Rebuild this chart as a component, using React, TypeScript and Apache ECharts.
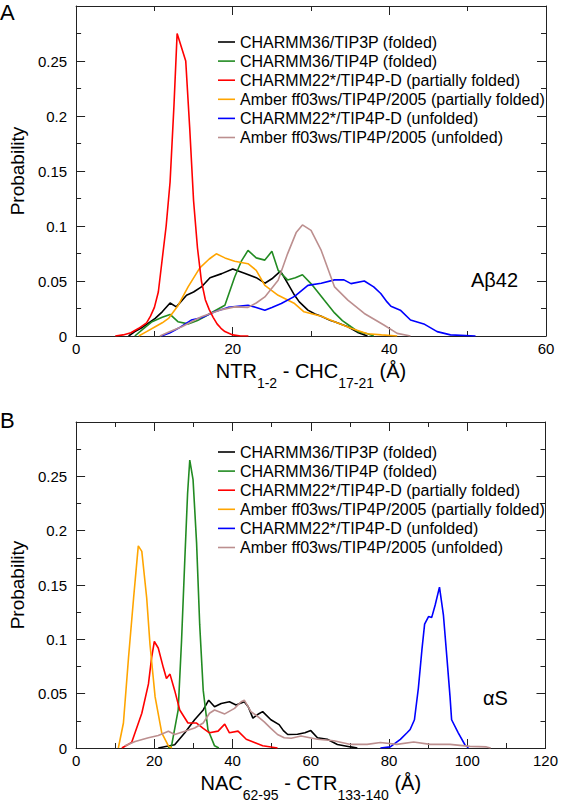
import React, { useEffect, useRef } from "react";
import * as echarts from "echarts";

const seriesNames = [
  "CHARMM36/TIP3P (folded)",
  "CHARMM36/TIP4P (folded)",
  "CHARMM22*/TIP4P-D (partially folded)",
  "Amber ff03ws/TIP4P/2005 (partially folded)",
  "CHARMM22*/TIP4P-D (unfolded)",
  "Amber ff03ws/TIP4P/2005 (unfolded)",
];
const seriesColors = ["#000000", "#228b22", "#ff0000", "#ffa500", "#0000ff", "#bc8f8f"];

const yTicksMax = 0.3;
const yInterval = 0.05;
const xMaxA = 60;
const xMaxB = 120;
const xInterval = 20;

// Panel A: NTR1-2 - CHC17-21 distance
const aBlack = [[6.7,0],[7.5,0.004],[8.5,0.008],[10.1,0.016],[11,0.022],[12,0.03],[12.8,0.0265],[14.1,0.037],[15,0.04],[16,0.0446],[17.1,0.053],[18.6,0.0567],[20,0.061],[21.5,0.057],[23,0.053],[24.1,0.048],[25,0.052],[26.1,0.059],[27,0.048],[27.9,0.037],[28.5,0.031],[29.6,0.0235],[30.5,0.02],[31.3,0.018],[32.5,0.014],[33,0.013],[34.7,0.0084],[35.9,0.0035],[36.4,0.002],[37.2,0]];
const aGreen = [[7.5,0],[8.5,0.006],[9.7,0.013],[11,0.017],[12,0.0196],[13,0.013],[14.3,0.011],[15.5,0.014],[16.4,0.0175],[17.5,0.022],[19,0.028],[20.25,0.0536],[21.1,0.068],[21.95,0.0778],[23,0.071],[24.1,0.069],[25,0.077],[25.8,0.0597],[27,0.051],[28,0.053],[28.9,0.0557],[30.2,0.046],[31.7,0.0325],[33,0.021],[34,0.014],[35.1,0.0084],[36,0.004],[37.2,0.002],[38,0]];
const aRed = [[5,0],[6,0.001],[7,0.003],[8,0.007],[9,0.012],[9.5,0.018],[10,0.026],[10.5,0.04],[11,0.07],[11.5,0.1],[12,0.14],[12.5,0.21],[12.9,0.275],[14,0.25],[14.5,0.19],[15,0.123],[15.5,0.08],[16,0.05],[16.5,0.033],[17,0.024],[17.5,0.017],[18,0.011],[18.5,0.007],[19,0.004],[20,0.001],[21,0],[22,0]];
const aOrange = [[8,0],[9,0.004],[10.1,0.0084],[11,0.012],[11.8,0.016],[13.05,0.028],[14.3,0.0446],[15.8,0.062],[17,0.07],[17.9,0.0747],[19,0.071],[20.25,0.068],[21.95,0.0657],[23,0.0597],[24.1,0.046],[25.8,0.037],[27.9,0.0295],[29.1,0.022],[31.3,0.018],[33,0.013],[35.1,0.007],[37.2,0.002],[39,0.001],[41,0]];
const aBlue = [[10.9,0],[12,0.003],[13.05,0.007],[14.7,0.0145],[16,0.0166],[17.7,0.022],[19.4,0.026],[21.95,0.028],[23,0.026],[24.1,0.0235],[25,0.026],[26.2,0.0295],[27.9,0.036],[29.6,0.046],[31.3,0.048],[33,0.051],[34.2,0.051],[35.1,0.0476],[36.8,0.05],[38,0.0446],[38.9,0.0386],[39.7,0.031],[40.2,0.027],[41.4,0.0235],[42.7,0.0145],[44.4,0.011],[46.1,0.004],[47.8,0.001],[51,0]];
const aBrown = [[10.7,0],[12,0.004],[13.5,0.0084],[16,0.0175],[18.6,0.024],[20.25,0.0265],[21.95,0.026],[23,0.03],[24.1,0.0355],[25.8,0.0506],[27,0.0747],[28.1,0.094],[28.9,0.101],[30,0.096],[31.3,0.0778],[33,0.0446],[34.7,0.0326],[36.8,0.0205],[39.3,0.01],[41,0.0024],[42.7,0]];

// Panel B: NAC62-95 - CTR133-140 distance
const bBlack = [[21,0],[25.2,0.003],[27.8,0.014],[30.3,0.026],[32.5,0.035],[33.9,0.044],[35.4,0.038],[37.1,0.041],[39.2,0.0426],[40.9,0.0396],[43,0.0426],[44,0.038],[45.2,0.0275],[46.5,0.031],[47.7,0.0335],[49.8,0.026],[51.9,0.0215],[53,0.016],[54.1,0.0124],[56.6,0.0127],[58.5,0.014],[60,0.016],[61.7,0.0094],[64.2,0.008],[66.8,0.0033],[70.2,0.001],[71.9,0]];
const bGreen = [[23.5,0],[24.4,0.002],[26.1,0.035],[26.95,0.098],[27.8,0.174],[28.5,0.234],[29.06,0.265],[29.9,0.247],[30.8,0.189],[31.6,0.1135],[32.5,0.053],[33.7,0.017],[35.4,0.002],[36.5,0]];
const bRed = [[11.7,0],[14.2,0.005],[16.8,0.032],[18.5,0.059],[19.3,0.083],[20,0.098],[21,0.092],[22.3,0.074],[23.1,0.064],[24,0.068],[25.2,0.053],[26.5,0.035],[28.6,0.023],[30.8,0.023],[32.5,0.018],[34.1,0.014],[36.3,0.0155],[38,0.022],[39.2,0.014],[41.4,0.0155],[43.5,0.008],[45.6,0.005],[47.7,0.002],[51.5,0]];
const bOrange = [[10.8,0],[12.1,0.023],[13.4,0.083],[14.7,0.138],[15.9,0.186],[16.8,0.181],[18.05,0.138],[18.9,0.095],[20.2,0.047],[21.9,0.014],[23.6,0.002],[24.5,0]];
const bBlue = [[77.8,0],[80.3,0.001],[82.9,0.008],[84.6,0.014],[85.4,0.017],[86.5,0.026],[87.5,0.055],[88.4,0.09],[89.1,0.114],[90.1,0.121],[90.9,0.12],[91.8,0.1316],[92.9,0.148],[93.9,0.1226],[94.8,0.083],[95.6,0.047],[96,0.026],[97.7,0.014],[99.4,0.003],[100.3,0]];
const bBrown = [[12.5,0.002],[15.1,0.006],[18.5,0.0094],[21,0.0115],[23.6,0.0154],[25.2,0.0124],[27.8,0.0154],[30.3,0.0184],[32.5,0.023],[34.1,0.032],[35.4,0.035],[38,0.0314],[40.5,0.0365],[42.2,0.0426],[43,0.044],[44.7,0.0335],[46.4,0.029],[48.1,0.024],[49.8,0.018],[51.5,0.0124],[53.2,0.0094],[55,0.009],[57.5,0.011],[61.7,0.008],[65.9,0.0066],[70.2,0.0033],[74.4,0.0033],[77.8,0.005],[82,0.0033],[86.3,0.0055],[90.5,0.0033],[95.6,0.0033],[100.7,0.0015],[104.9,0.001],[106,0]];

const panelA = [aBlack, aGreen, aRed, aOrange, aBlue, aBrown];
const panelB = [bBlack, bGreen, bRed, bOrange, bBlue, bBrown];

const FONT = "'Liberation Sans', Arial, Helvetica, sans-serif";
const AXIS_COLOR = "#222";

function makeX(gridIndex: number, max: number, bottom: boolean, name?: string) {
  return {
    type: "value",
    gridIndex,
    position: bottom ? "bottom" : "top",
    min: 0,
    max,
    interval: xInterval,
    name: bottom ? name : undefined,
    nameLocation: "middle",
    nameGap: 25,
    nameTextStyle: {
      color: "#000",
      fontFamily: FONT,
      rich: {
        b: { fontSize: 20, lineHeight: 21, verticalAlign: "top", fontFamily: FONT, color: "#000" },
        s: { fontSize: 14, lineHeight: 14, padding: [15, 0, 0, 0], verticalAlign: "top", fontFamily: FONT, color: "#000" },
      },
    },
    axisLine: { show: true, onZero: false, lineStyle: { color: AXIS_COLOR, width: 1 } },
    axisTick: { show: true, inside: true, length: 9, lineStyle: { color: AXIS_COLOR } },
    minorTick: { show: true, splitNumber: 2, length: 5, lineStyle: { color: AXIS_COLOR } },
    axisLabel: { show: bottom, color: "#000", fontSize: 15, fontFamily: FONT, margin: 5 },
    splitLine: { show: false },
    minorSplitLine: { show: false },
  };
}

function makeY(gridIndex: number, left: boolean) {
  return {
    type: "value",
    gridIndex,
    position: left ? "left" : "right",
    min: 0,
    max: yTicksMax,
    interval: yInterval,
    name: left ? "Probability" : undefined,
    nameLocation: "middle",
    nameGap: 35,
    nameTextStyle: { color: "#000", fontSize: 19, fontFamily: FONT },
    axisLine: { show: true, onZero: false, lineStyle: { color: AXIS_COLOR, width: 1 } },
    axisTick: { show: true, inside: true, length: 9, lineStyle: { color: AXIS_COLOR } },
    minorTick: { show: true, splitNumber: 2, length: 5, lineStyle: { color: AXIS_COLOR } },
    axisLabel: {
      show: left,
      color: "#000",
      fontSize: 15,
      fontFamily: FONT,
      margin: 9,
      formatter: (v: number) => (v >= yTicksMax - 1e-9 ? "" : String(v)),
    },
    splitLine: { show: false },
    minorSplitLine: { show: false },
  };
}

export default function App() {
  const ref = useRef<HTMLDivElement>(null);
  useEffect(() => {
    if (!ref.current) return;
    const chart = echarts.init(ref.current, undefined, { renderer: "svg" });
    const series: any[] = [];
    panelA.forEach((d, i) =>
      series.push({
        type: "line",
        name: seriesNames[i],
        xAxisIndex: 0,
        yAxisIndex: 0,
        data: d,
        showSymbol: false,
        symbol: "none",
        lineStyle: { width: 1.6, color: seriesColors[i] },
        itemStyle: { color: seriesColors[i] },
        z: i === 2 ? 3 : 2,
      })
    );
    panelB.forEach((d, i) =>
      series.push({
        type: "line",
        name: seriesNames[i],
        xAxisIndex: 2,
        yAxisIndex: 2,
        data: d,
        showSymbol: false,
        symbol: "none",
        lineStyle: { width: 1.6, color: seriesColors[i] },
        itemStyle: { color: seriesColors[i] },
      })
    );
    const legendBase = {
      orient: "vertical",
      left: 213,
      icon: "rect",
      itemWidth: 17,
      itemHeight: 1.6,
      itemGap: 3.1,
      data: seriesNames,
      selectedMode: false,
      textStyle: { color: "#000", fontSize: 16, fontFamily: FONT, lineHeight: 16 },
    };
    chart.setOption({
      animation: false,
      backgroundColor: "#fff",
      grid: [
        { left: 74, top: 6, width: 472, height: 330, containLabel: false },
        { left: 74, top: 422, width: 472, height: 330, containLabel: false },
      ],
      xAxis: [
        makeX(0, xMaxA, true, "{b|NTR}{s|1-2}{b| - CHC}{s|17-21}{b| (Å)}"),
        makeX(0, xMaxA, false),
        makeX(1, xMaxB, true, "{b|NAC}{s|62-95}{b| - CTR}{s|133-140}{b| (Å)}"),
        makeX(1, xMaxB, false),
      ],
      yAxis: [makeY(0, true), makeY(0, false), makeY(1, true), makeY(1, false)],
      legend: [
        { ...legendBase, top: 29 },
        { ...legendBase, top: 439 },
      ],
      graphic: [
        { type: "text", x: 0, y: 12, style: { text: "A", font: `22px ${FONT}`, fill: "#000", verticalAlign: "middle", textVerticalAlign: "middle" } },
        { type: "text", x: 0, y: 420, style: { text: "B", font: `22px ${FONT}`, fill: "#000", verticalAlign: "middle", textVerticalAlign: "middle" } },
        { type: "text", x: 471, y: 280, style: { text: "Aβ42", font: `20px ${FONT}`, fill: "#000", verticalAlign: "middle", textVerticalAlign: "middle" } },
        { type: "text", x: 483, y: 698, style: { text: "αS", font: `20px ${FONT}`, fill: "#000", verticalAlign: "middle", textVerticalAlign: "middle" } },
      ],
      series,
    });
    return () => chart.dispose();
  }, []);
  return (
    <div
      ref={ref}
      style={{ position: "fixed", left: 0, top: 0, width: 561, height: 803, background: "#fff" }}
    />
  );
}
